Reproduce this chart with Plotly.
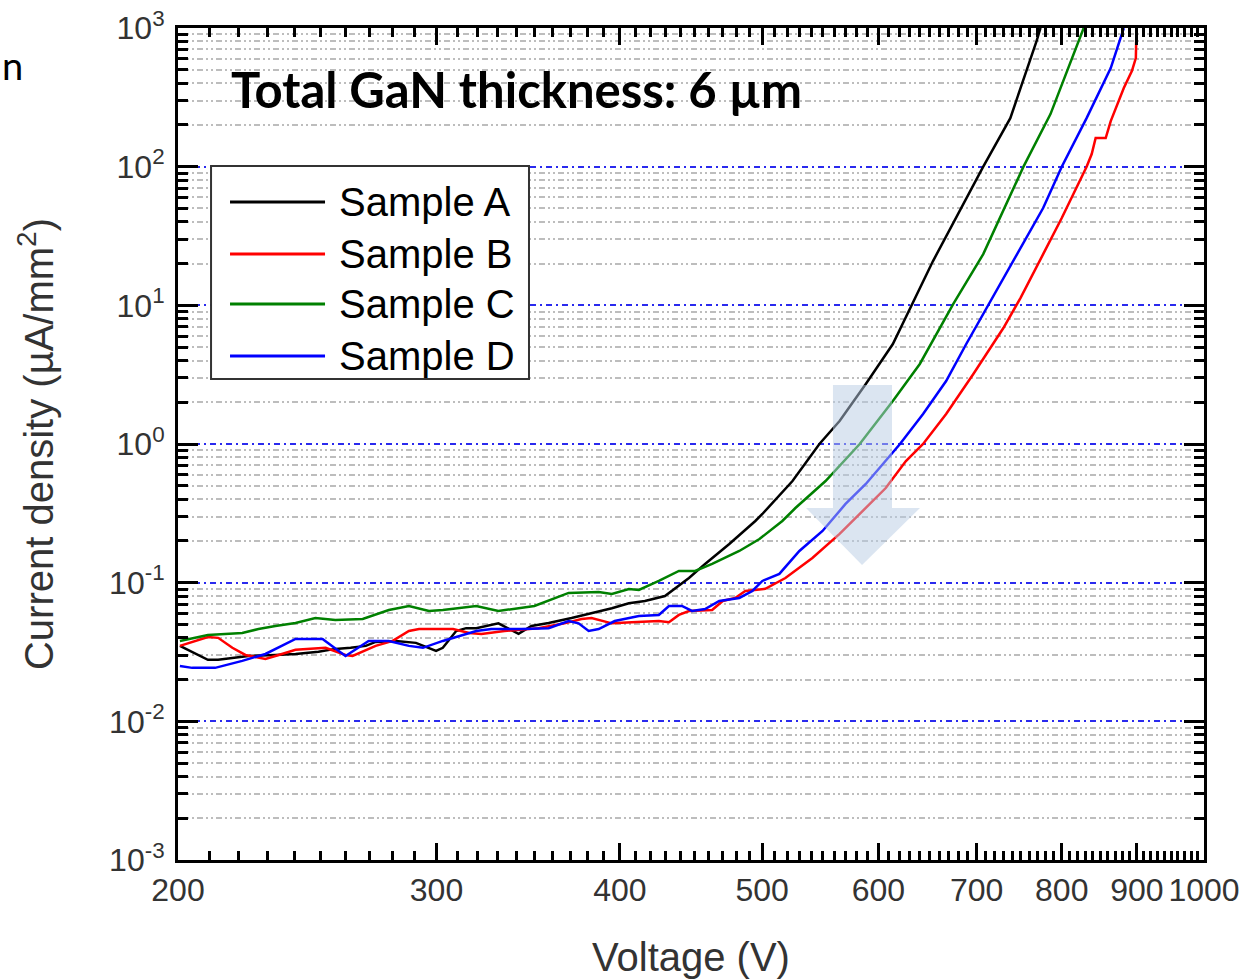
import plotly.graph_objects as go

# ---------------- data ----------------
sample_names = ["Sample A", "Sample B", "Sample C", "Sample D"]
sample_colors = ["#000000", "#ff0000", "#008000", "#0000ff"]

a_v = [200.6, 209.6, 213, 223.3, 233, 240.5, 249.3, 256, 262.2, 268.5, 272.7, 281.5, 290.5,
       299.8, 303, 309.4, 314.3, 319.3, 330.6, 341.2, 348.2, 357.7, 370.8, 380.9, 395, 405.7,
       416, 429.3, 445.8, 457.2, 474.9, 494.7, 500.2, 524.4, 547, 564.6, 588.3, 613.8, 630.5,
       653.7, 707.3, 738, 769, 773.8]
a_j = [0.0350, 0.0278, 0.0278, 0.0296, 0.0301, 0.0306, 0.0317, 0.0333, 0.0339, 0.0350, 0.0374,
       0.0380, 0.0368, 0.0322, 0.0339, 0.0448, 0.0470, 0.0470, 0.0509, 0.0427, 0.0487, 0.0512,
       0.0556, 0.0596, 0.0654, 0.0710, 0.0738, 0.0801, 0.1081, 0.1365, 0.1902, 0.2785, 0.3129,
       0.541, 1.0, 1.465, 2.709, 5.26, 9.56, 20.86, 100, 223.8, 805, 1000]

b_v = [200.6, 209.6, 213, 217.8, 222.3, 229.4, 233, 240.5, 252.1, 260.1, 263, 272.7, 280.1,
       287.3, 291.9, 307.9, 315.8, 321.9, 333.8, 352, 366.7, 376.7, 382.6, 395, 407.6, 425.2,
       432, 438.8, 445.8, 462.3, 470, 479.3, 487, 502.5, 518.6, 541, 564.6, 582.7, 607, 626.5,
       643.6, 667.3, 696.4, 730, 749.8, 777, 800, 831.8, 838.5, 843.7, 857.1, 863.9, 881.8,
       893, 898.6, 899.5]
b_j = [0.0350, 0.0406, 0.0400, 0.0339, 0.0301, 0.0282, 0.0296, 0.0328, 0.0339, 0.0301, 0.0296,
       0.0350, 0.0380, 0.0448, 0.0463, 0.0463, 0.0434, 0.0427, 0.0448, 0.0470, 0.0509, 0.0547,
       0.0556, 0.0509, 0.0518, 0.0529, 0.0518, 0.0585, 0.0625, 0.0635, 0.0738, 0.0776, 0.0871,
       0.0903, 0.1081, 0.1507, 0.2245, 0.3129, 0.4814, 0.754, 1.0, 1.645, 3.196, 6.86, 11.28,
       23.4, 42.6, 100, 123.3, 160.8, 160.8, 213, 368.7, 489, 606.7, 1000]

c_v = [200.6, 209.6, 221.2, 226.9, 233, 240.5, 248.1, 256, 267.2, 278.4, 287.3, 296.5, 303,
       319.3, 330.6, 349.8, 369.1, 386.9, 395, 405.7, 412.1, 425.2, 438.8, 450.1, 462.3, 482.4,
       497.9, 516.1, 526.8, 552.3, 582.7, 613.8, 640.3, 674.7, 707.3, 753.4, 786, 828]
c_j = [0.0380, 0.0420, 0.0434, 0.0463, 0.0487, 0.0512, 0.0556, 0.0538, 0.0547, 0.0635, 0.0679,
       0.0625, 0.0635, 0.0679, 0.0625, 0.0679, 0.0843, 0.0857, 0.0829, 0.0901, 0.0886, 0.1029,
       0.1215, 0.1215, 0.1365, 0.1693, 0.2065, 0.2785, 0.3455, 0.541, 1.0, 2.042, 3.776, 10.22,
       23.4, 100, 239.4, 1000]

d_v = [200.6, 204.5, 212, 221.2, 229.4, 233, 240.5, 250.9, 260.1, 269.7, 278.4, 287.3, 293.7,
       303, 310.9, 319.3, 327, 342.8, 357.7, 369.1, 374.9, 380.9, 386.9, 396.8, 412.1, 425.2,
       432, 440.9, 447.9, 457.2, 467.5, 482.4, 492.4, 500.2, 513.7, 530.1, 549.7, 569.9, 588.3,
       607, 620.7, 643.6, 667.3, 688.7, 715.2, 749.8, 777, 800, 831.8, 863.9, 881.8]
d_j = [0.0251, 0.0243, 0.0243, 0.0273, 0.0306, 0.0333, 0.0393, 0.0393, 0.0296, 0.0380, 0.0380,
       0.0350, 0.0339, 0.0380, 0.0413, 0.0448, 0.0463, 0.0463, 0.0470, 0.0529, 0.0509, 0.0448,
       0.0463, 0.0529, 0.0575, 0.0585, 0.0679, 0.0679, 0.0625, 0.0645, 0.0738, 0.0776, 0.0871,
       0.1029, 0.1156, 0.1693, 0.2359, 0.3695, 0.5149, 0.754, 1.0, 1.645, 2.846, 5.26, 10.74,
       25.85, 50.3, 100, 223.8, 513.8, 1000]

series_v = [a_v, b_v, c_v, d_v]
series_j = [a_j, b_j, c_j, d_j]

x_tick_vals = [200, 300, 400, 500, 600, 700, 800, 900, 1000]
x_tick_text = ["200", "300", "400", "500", "600", "700", "800", "900", "1000"]
y_tick_vals = [1e-3, 1e-2, 1e-1, 1e0, 1e1, 1e2, 1e3]
y_tick_text = ["10<sup>-3</sup>", "10<sup>-2</sup>", "10<sup>-1</sup>", "10<sup>0</sup>",
               "10<sup>1</sup>", "10<sup>2</sup>", "10<sup>3</sup>"]

title_text = "Total GaN thickness: 6 µm"
x_title = "Voltage (V)"
y_title = "Current density (µA/mm<sup>2</sup>)"

# minor tick positions
x_minor = [v for v in range(210, 1000, 10) if v % 100 != 0]
y_minor = [k * 10.0 ** e for e in range(-3, 3) for k in range(2, 10)]

# ---------------- figure ----------------
fig = go.Figure()
for name, color, xv, yv in zip(sample_names, sample_colors, series_v, series_j):
    fig.add_trace(go.Scatter(x=xv, y=yv, mode="lines", name=name,
                             line=dict(color=color, width=2.5), showlegend=False))

tick_font = dict(family="Liberation Sans, Arial, sans-serif", size=32, color="#333333")
title_font = dict(family="Liberation Sans, Arial, sans-serif", size=40, color="#333333")

fig.update_layout(
    width=1252, height=979,
    margin=dict(l=178, r=48, t=28, b=119),
    paper_bgcolor="white", plot_bgcolor="white",
    showlegend=False,
    xaxis=dict(
        type="log", range=[2.30103, 3.0], automargin=False,
        tickmode="array", tickvals=x_tick_vals, ticktext=x_tick_text,
        ticks="inside", ticklen=17, tickwidth=2.5, tickcolor="black",
        showline=True, linecolor="black", linewidth=3, mirror="ticks",
        showgrid=False, zeroline=False,
        tickfont=tick_font, ticklabelstandoff=0,
        minor=dict(tickmode="array", tickvals=x_minor, ticks="inside", ticklen=9,
                   tickwidth=2.5, tickcolor="black", showgrid=False),
        title=dict(text=x_title, font=title_font, standoff=40),
    ),
    yaxis=dict(
        type="log", range=[-3, 3], automargin=False,
        tickmode="array", tickvals=y_tick_vals, ticktext=y_tick_text,
        ticks="inside", ticklen=20, tickwidth=3, tickcolor="black",
        showline=True, linecolor="black", linewidth=3, mirror="ticks",
        showgrid=True, gridcolor="#2a2aee", gridwidth=1.5, griddash="6px,4px,2px,4px",
        zeroline=False,
        tickfont=tick_font, ticklabelstandoff=4,
        minor=dict(tickmode="array", tickvals=y_minor, ticks="inside", ticklen=10,
                   tickwidth=3, tickcolor="black", showgrid=True, gridcolor="#bdbdbd",
                   gridwidth=1.5, griddash="6px,3px,2px,3px,2px,3px"),
        title=dict(text=y_title, font=title_font, standoff=44),
    ),
)

# translucent arrow (paper coordinates)
fig.add_shape(type="path", xref="paper", yref="paper",
              path="M 0.6384,0.5709 L 0.6959,0.5709 L 0.6959,0.4231 L 0.7232,0.4231 "
                   "L 0.6667,0.3546 L 0.6121,0.4231 L 0.6384,0.4231 Z",
              fillcolor="rgb(184,204,228)", opacity=0.5, line=dict(width=0), layer="above")

# legend box drawn manually to get the long line samples
fig.add_shape(type="rect", xref="paper", yref="paper", x0=0.0322, x1=0.3421, y0=0.5781, y1=0.8341,
              fillcolor="white", line=dict(color="#333333", width=2), layer="above")
legend_rows_y = [0.7909, 0.7284, 0.6683, 0.6058]
for name, color, yy in zip(sample_names, sample_colors, legend_rows_y):
    fig.add_shape(type="line", xref="paper", yref="paper", x0=0.0507, x1=0.1433, y0=yy, y1=yy,
                  line=dict(color=color, width=3), layer="above")
    fig.add_annotation(xref="paper", yref="paper", x=0.1550, y=yy, text=name, showarrow=False,
                       xanchor="left", yanchor="middle",
                       font=dict(family="Liberation Sans, Arial, sans-serif", size=40, color="black"))

# chart title text
fig.add_annotation(xref="paper", yref="paper", x=0.3304, y=0.927, text="<b>" + title_text + "</b>",
                   showarrow=False, xanchor="center", yanchor="middle",
                   font=dict(family="Lato, Open Sans, sans-serif", size=49, color="black"))

# fragment of text at the left edge
fig.add_annotation(xref="paper", yref="paper", x=-0.1490, y=0.955, text="n", showarrow=False,
                   xanchor="right", yanchor="middle",
                   font=dict(family="Lato, Open Sans, sans-serif", size=38, color="black"))

fig.write_html("out.html")
